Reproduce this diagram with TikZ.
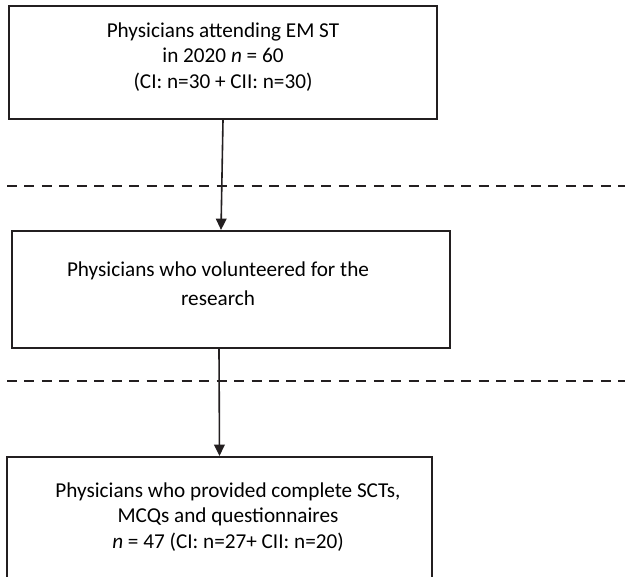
\documentclass[tikz,border=0pt]{standalone}
\usepackage{fontspec}
\setmainfont{Carlito}
\usetikzlibrary{arrows.meta}
\definecolor{inkgray}{HTML}{231F20}
\begin{document}
\begin{tikzpicture}[x=0.75pt, y=-0.75pt,
    box/.style={rectangle, draw=inkgray, line width=1.6pt, inner sep=0pt},
    boxtext/.style={align=center, inner sep=0pt, text=black, font=\fontsize{15.9}{19}\selectfont},
    flow/.style={draw=inkgray, line width=1.2pt, -{Triangle[length=8.5pt, width=8pt]}},
    divider/.style={draw=inkgray, line width=1.6pt, dash pattern=on 7.5pt off 5.6pt}]
        \clip (0,0) rectangle (625,576);
        \fill[white] (0,0) rectangle (625,576);
        % boxes
        \node[box, minimum width=321pt, minimum height=84.75pt] at (223,62.5) (attending) {};
        \node[box, minimum width=328.5pt, minimum height=87.75pt] at (231,289.5) (volunteered) {};
        \node[box, minimum width=318.75pt, minimum height=105pt] at (219.5,527) (completed) {};
        % texts
        \node[boxtext] at (223,57) (attendingtext) {Physicians attending EM ST\\ in 2020 \textit{n} = 60\\ (CI: n=30 + CII: n=30)};
        \node[boxtext] at (218,284) (volunteeredtext) {Physicians who volunteered for the\\[3pt] research};
        \node[boxtext] at (228,517) (completedtext) {Physicians who provided complete SCTs,\\ MCQs and questionnaires\\ \textit{n} = 47 (CI: n=27+ CII: n=20)};
        % dashed dividers
        \draw[divider] (7,186) -- (625,186);
        \draw[divider] (7,381) -- (625,381);
        % arrows
        \draw[flow] (attending.south) -- ([xshift=-7.5pt]volunteered.north);
        \draw[flow] ([xshift=-9pt]volunteered.south) -- (completed.north);
\end{tikzpicture}
\end{document}
